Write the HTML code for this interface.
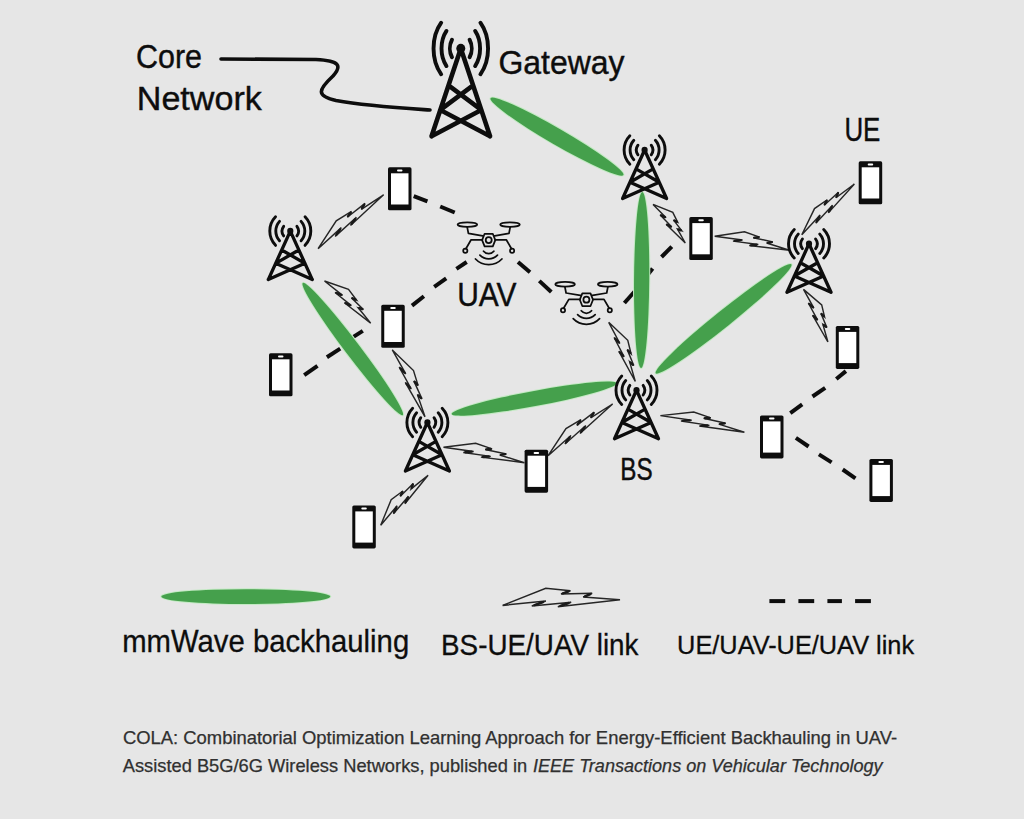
<!DOCTYPE html>
<html><head><meta charset="utf-8"><style>
html,body{margin:0;padding:0;background:#e6e6e6;}
body{width:1024px;height:819px;overflow:hidden;}
svg{display:block;font-family:"Liberation Sans",sans-serif;}
</style></head><body>
<svg width="1024" height="819" viewBox="0 0 1024 819">
<defs><g id="ph"><rect x="0" y="0" width="23.5" height="43" rx="1.6" fill="#0d0d0d"/><rect x="3" y="6" width="17.5" height="31.2" fill="#fff"/><rect x="9" y="2.2" width="5.5" height="2" rx="1" fill="#fff"/></g>
<g id="dr" fill="none" stroke="#0d0d0d" stroke-width="1.75" stroke-linecap="round" stroke-linejoin="round"><ellipse cx="-21.3" cy="-15.5" rx="9.8" ry="2.3"/><ellipse cx="21.3" cy="-15.5" rx="9.8" ry="2.3"/><path d="M-21.5,-12.9 L-20.3,-6.7 L-6,-4.3 M21.5,-12.9 L20.3,-6.7 L6,-4.3"/><path d="M6.6,0 L4.1,6.3 L-4.1,6.3 L-6.6,0 L-4.1,-6.3 L4.1,-6.3Z"/><circle cx="0" cy="0" r="3"/><path d="M-6.4,-0.3 L-17.6,-0.3 L-22.8,8.6 M6.4,-0.3 L17.6,-0.3 L22.8,8.6"/><circle cx="-23.4" cy="10.6" r="2.1"/><circle cx="23.4" cy="10.6" r="2.1"/><path d="M-5.15,11.1 A6.6,6.6 0 0 0 5.15,11.1 M-8.8,15 A12.3,12.3 0 0 0 8.8,15 M-13.2,18.9 A18.1,18.1 0 0 0 13.2,18.9"/></g></defs>
<rect width="1024" height="819" fill="#e6e6e6"/>
<path d="M221,59 L316,59.5 C340,60.5 342,66 333,76 C318,90 316,96 336,100.5 C366,106 400,108 430,110" fill="none" stroke="#0d0d0d" stroke-width="3.6" stroke-linecap="round"/>
<g stroke="#0d0d0d" stroke-width="4" stroke-linecap="butt"><line x1="413.7" y1="196.2" x2="427.4" y2="201.4"/><line x1="440.2" y1="206.5" x2="454.7" y2="212.5"/><line x1="466.7" y1="262" x2="456.4" y2="268.9"/><line x1="446.2" y1="278.3" x2="434.2" y2="286.8"/><line x1="423.9" y1="296.2" x2="412" y2="305.6"/><line x1="518" y1="262" x2="530" y2="272.3"/><line x1="539.3" y1="280.9" x2="551.3" y2="292"/><line x1="624.4" y1="303" x2="634.6" y2="291.5"/><line x1="643.4" y1="280.2" x2="652.6" y2="268.4"/><line x1="661.5" y1="257" x2="671.8" y2="246.7"/><line x1="304.2" y1="375.2" x2="317.5" y2="365.8"/><line x1="326.9" y1="357.2" x2="340.2" y2="348.6"/><line x1="353.4" y1="336.9" x2="362.8" y2="330.9"/><line x1="790.3" y1="413.2" x2="802.2" y2="404.4"/><line x1="812.5" y1="396.5" x2="825.2" y2="387.8"/><line x1="836.3" y1="379" x2="845.9" y2="371.1"/><line x1="795.9" y1="437.8" x2="808.6" y2="446.5"/><line x1="818.9" y1="454.4" x2="831.6" y2="462.4"/><line x1="842.7" y1="469.5" x2="855.4" y2="478.3"/><line x1="769.4" y1="601.1" x2="785.2" y2="601.1"/><line x1="798.4" y1="601.1" x2="814.2" y2="601.1"/><line x1="827.4" y1="601.1" x2="841.9" y2="601.1"/><line x1="855.1" y1="601.1" x2="870.9" y2="601.1"/></g>
<ellipse cx="556.98" cy="136.65" rx="76.75" ry="8.1" transform="rotate(30.06 556.98 136.65)" fill="#45a04c" stroke="#c3eac3" stroke-width="2" paint-order="stroke"/>
<ellipse cx="641.65" cy="280" rx="88.1" ry="7.6" transform="rotate(90.42 641.65 280)" fill="#45a04c" stroke="#c3eac3" stroke-width="2" paint-order="stroke"/>
<ellipse cx="352.75" cy="349.1" rx="82.87" ry="7.35" transform="rotate(52.88 352.75 349.1)" fill="#45a04c" stroke="#c3eac3" stroke-width="2" paint-order="stroke"/>
<ellipse cx="534.1" cy="398.6" rx="83.82" ry="7.6" transform="rotate(-10.54 534.1 398.6)" fill="#45a04c" stroke="#c3eac3" stroke-width="2" paint-order="stroke"/>
<ellipse cx="723.55" cy="318.85" rx="87.02" ry="8.1" transform="rotate(-38.78 723.55 318.85)" fill="#45a04c" stroke="#c3eac3" stroke-width="2" paint-order="stroke"/>
<ellipse cx="245.8" cy="596.6" rx="84.5" ry="7.4" fill="#45a04c" stroke="#c3eac3" stroke-width="2" paint-order="stroke"/>
<path d="M318.1,248.7 L336.24,220.82 L351.5,211.46 L347.29,217.29 L364.99,203.42 L361.31,209.36 L383.6,194.8 L350.5,225.47 L356.41,217.29 L335.2,236.38 L341.3,227.63Z" fill="none" stroke="#262626" stroke-width="1.45" stroke-linejoin="miter" stroke-miterlimit="4"/><path d="M350.66,212.63 L348.14,216.13 M364.25,204.61 L362.04,208.17 M351.68,223.83 L355.23,218.93 M336.42,234.63 L340.08,229.38" stroke="#1a1a1a" stroke-width="2.32" stroke-linecap="round"/>
<path d="M324.5,281 L348.51,289.35 L356.51,299.98 L351.49,297.88 L363.37,309.43 L358.25,307.81 L370.7,323.1 L344.38,302.7 L351.42,305.65 L335.05,292.44 L342.58,295.4Z" fill="none" stroke="#262626" stroke-width="1.45" stroke-linejoin="miter" stroke-miterlimit="4"/><path d="M355.5,299.56 L352.49,298.3 M362.35,309.1 L359.28,308.13 M345.79,303.29 L350.01,305.06 M336.55,293.03 L341.07,294.81" stroke="#1a1a1a" stroke-width="2.32" stroke-linecap="round"/>
<path d="M392.3,349.9 L413.51,370.53 L418.13,385.6 L413.8,380.91 L421.99,398.88 L417.42,394.64 L425,416.8 L405.26,382.44 L411.32,389.01 L399.2,367.08 L405.74,373.91Z" fill="none" stroke="#262626" stroke-width="1.45" stroke-linejoin="miter" stroke-miterlimit="4"/><path d="M417.26,384.66 L414.67,381.85 M421.08,398.03 L418.34,395.49 M406.47,383.75 L410.1,387.7 M400.51,368.45 L404.43,372.55" stroke="#1a1a1a" stroke-width="2.32" stroke-linecap="round"/>
<path d="M443.5,447.3 L475.63,443.24 L492.07,448.88 L485.1,449.42 L506.44,454.02 L499.71,455.03 L524.4,462.7 L480.95,457.13 L490.73,456.38 L463.31,452.45 L473.64,451.48Z" fill="none" stroke="#262626" stroke-width="1.45" stroke-linejoin="miter" stroke-miterlimit="4"/><path d="M490.68,448.99 L486.49,449.31 M505.09,454.22 L501.05,454.82 M482.9,456.98 L488.77,456.53 M465.38,452.25 L471.57,451.67" stroke="#1a1a1a" stroke-width="2.32" stroke-linecap="round"/>
<path d="M548.1,455.7 L565.97,428.56 L580.99,419.68 L576.85,425.35 L594.27,412.06 L590.65,417.85 L612.6,404 L580.01,433.52 L585.82,425.58 L564.94,443.93 L570.94,435.43Z" fill="none" stroke="#262626" stroke-width="1.45" stroke-linejoin="miter" stroke-miterlimit="4"/><path d="M580.17,420.82 L577.68,424.22 M593.55,413.22 L591.37,416.69 M581.17,431.93 L584.66,427.17 M566.14,442.23 L569.74,437.13" stroke="#1a1a1a" stroke-width="2.32" stroke-linecap="round"/>
<path d="M380.7,525.3 L391.17,499.72 L402.87,490.97 L400.31,496.33 L413.26,483.44 L411.19,488.89 L428.1,475.3 L404.85,503.67 L408.45,496.16 L393.43,513.83 L397.08,505.8Z" fill="none" stroke="#262626" stroke-width="1.45" stroke-linejoin="miter" stroke-miterlimit="4"/><path d="M402.36,492.04 L400.82,495.26 M412.84,484.53 L411.6,487.8 M405.57,502.17 L407.73,497.66 M394.16,512.22 L396.35,507.4" stroke="#1a1a1a" stroke-width="2.32" stroke-linecap="round"/>
<path d="M608.7,322.3 L627.77,340.34 L631.08,353.73 L627.23,349.62 L633.79,365.53 L629.66,361.83 L635.3,381.5 L618.76,351.15 L624.15,356.91 L614.07,337.53 L619.91,343.52Z" fill="none" stroke="#262626" stroke-width="1.45" stroke-linejoin="miter" stroke-miterlimit="4"/><path d="M630.31,352.91 L628,350.44 M632.97,364.79 L630.49,362.57 M619.84,352.3 L623.07,355.76 M615.23,338.73 L618.74,342.32" stroke="#1a1a1a" stroke-width="2.32" stroke-linecap="round"/>
<path d="M653.05,204.4 L672.79,212.42 L677.63,222.08 L673.58,220.08 L681.72,230.65 L677.48,229.08 L685.3,243 L666.14,224.2 L671.81,227 L660.01,214.84 L666.12,217.66Z" fill="none" stroke="#262626" stroke-width="1.45" stroke-linejoin="miter" stroke-miterlimit="4"/><path d="M676.82,221.68 L674.39,220.48 M680.87,230.34 L678.33,229.4 M667.28,224.76 L670.68,226.44 M661.23,215.4 L664.9,217.1" stroke="#1a1a1a" stroke-width="2.32" stroke-linecap="round"/>
<path d="M714.7,236.3 L744.48,231.71 L759.64,237.06 L753.17,237.71 L772.87,241.94 L766.63,243.06 L789.4,250.3 L749.25,245.47 L758.31,244.56 L732.98,241.1 L742.55,239.96Z" fill="none" stroke="#262626" stroke-width="1.45" stroke-linejoin="miter" stroke-miterlimit="4"/><path d="M758.34,237.19 L754.47,237.58 M771.62,242.17 L767.88,242.84 M751.06,245.29 L756.5,244.75 M734.89,240.87 L740.63,240.19" stroke="#1a1a1a" stroke-width="2.32" stroke-linecap="round"/>
<path d="M801.8,234.8 L814.53,208.61 L827.23,199.77 L824.19,205.25 L838.5,192.17 L835.96,197.75 L854.4,184 L828.31,212.88 L832.58,205.2 L815.78,223.17 L820.15,214.95Z" fill="none" stroke="#262626" stroke-width="1.45" stroke-linejoin="miter" stroke-miterlimit="4"/><path d="M826.63,200.86 L824.8,204.15 M837.99,193.28 L836.47,196.63 M829.16,211.34 L831.73,206.73 M816.66,221.53 L819.27,216.6" stroke="#1a1a1a" stroke-width="2.32" stroke-linecap="round"/>
<path d="M803.5,289.4 L821.7,304.86 L824.56,316.9 L820.9,313.35 L826.88,327.52 L822.94,324.36 L827.9,342 L812.54,315.18 L817.67,320.16 L808.33,303.01 L813.89,308.17Z" fill="none" stroke="#262626" stroke-width="1.45" stroke-linejoin="miter" stroke-miterlimit="4"/><path d="M823.82,316.19 L821.63,314.06 M826.09,326.88 L823.72,324.99 M813.57,316.18 L816.64,319.16 M809.44,304.04 L812.78,307.14" stroke="#1a1a1a" stroke-width="2.32" stroke-linecap="round"/>
<path d="M660.4,415.6 L693.75,412 L710.83,417.89 L703.59,418.32 L725.75,423.24 L718.76,424.16 L744.4,432.2 L699.28,425.99 L709.44,425.38 L680.97,421.04 L691.69,420.22Z" fill="none" stroke="#262626" stroke-width="1.45" stroke-linejoin="miter" stroke-miterlimit="4"/><path d="M709.38,417.98 L705.04,418.24 M724.35,423.43 L720.16,423.97 M701.31,425.86 L707.41,425.5 M683.11,420.88 L689.55,420.39" stroke="#1a1a1a" stroke-width="2.32" stroke-linecap="round"/>
<path d="M502.6,605.4 L545.78,588.29 L570.5,590.8 L561,594 L592.15,593.29 L583.16,597.1 L620,599.7 L557.85,606.7 L571.17,602.21 L531.81,606.01 L545.81,601Z" fill="none" stroke="#262626" stroke-width="1.5" stroke-linejoin="miter" stroke-miterlimit="4"/><path d="M568.6,591.44 L562.9,593.36 M590.35,594.05 L584.96,596.34 M560.52,605.8 L568.51,603.1 M534.61,605.01 L543.01,602.01" stroke="#1a1a1a" stroke-width="2.4000000000000004" stroke-linecap="round"/>
<g><path d="M451.98,39.78 A10.91,14.84 0 0 0 451.98,57.22 M469.62,39.78 A10.91,14.84 0 0 1 469.62,57.22 M446.47,30.94 A19.29,26.25 0 0 0 446.47,66.06 M475.13,30.94 A19.29,26.25 0 0 1 475.13,66.06 M441.19,22.72 A27.27,37.11 0 0 0 441.19,74.28 M480.41,22.72 A27.27,37.11 0 0 1 480.41,74.28" fill="none" stroke="#0d0d0d" stroke-width="3.9" stroke-linecap="round"/><path d="M431.54,136.28 L460.8,48.5 L490.06,136.28 M448.51,85.37 L481.28,109.95 M473.09,85.37 L440.32,109.95 M440.32,109.95 L490.06,136.28 M481.28,109.95 L431.54,136.28" fill="none" stroke="#0d0d0d" stroke-width="4.6" stroke-linecap="round" stroke-linejoin="round"/><ellipse cx="460.8" cy="48.5" rx="4.5" ry="4.73" fill="#0d0d0d"/></g>
<g><path d="M637.97,145.18 A8.2,8.2 0 0 0 637.97,154.82 M651.23,145.18 A8.2,8.2 0 0 1 651.23,154.82 M633.82,140.3 A14.5,14.5 0 0 0 633.82,159.7 M655.38,140.3 A14.5,14.5 0 0 1 655.38,159.7 M629.85,135.76 A20.5,20.5 0 0 0 629.85,164.24 M659.35,135.76 A20.5,20.5 0 0 1 659.35,164.24" fill="none" stroke="#0d0d0d" stroke-width="2.9" stroke-linecap="round"/><path d="M622.6,198.5 L644.6,150 L666.6,198.5 M636.02,168.91 L659.23,182.25 M653.18,168.91 L629.97,182.25 M629.97,182.25 L666.6,198.5 M659.23,182.25 L622.6,198.5" fill="none" stroke="#0d0d0d" stroke-width="3.3" stroke-linecap="round" stroke-linejoin="round"/><ellipse cx="644.6" cy="150" rx="3.1" ry="3.26" fill="#0d0d0d"/></g>
<g><path d="M283.67,226.28 A8.2,8.2 0 0 0 283.67,235.92 M296.93,226.28 A8.2,8.2 0 0 1 296.93,235.92 M279.52,221.4 A14.5,14.5 0 0 0 279.52,240.8 M301.08,221.4 A14.5,14.5 0 0 1 301.08,240.8 M275.55,216.86 A20.5,20.5 0 0 0 275.55,245.34 M305.05,216.86 A20.5,20.5 0 0 1 305.05,245.34" fill="none" stroke="#0d0d0d" stroke-width="2.9" stroke-linecap="round"/><path d="M268.3,279.6 L290.3,231.1 L312.3,279.6 M281.72,250.01 L304.93,263.35 M298.88,250.01 L275.67,263.35 M275.67,263.35 L312.3,279.6 M304.93,263.35 L268.3,279.6" fill="none" stroke="#0d0d0d" stroke-width="3.3" stroke-linecap="round" stroke-linejoin="round"/><ellipse cx="290.3" cy="231.1" rx="3.1" ry="3.26" fill="#0d0d0d"/></g>
<g><path d="M802.37,238.98 A8.2,8.2 0 0 0 802.37,248.62 M815.63,238.98 A8.2,8.2 0 0 1 815.63,248.62 M798.22,234.1 A14.5,14.5 0 0 0 798.22,253.5 M819.78,234.1 A14.5,14.5 0 0 1 819.78,253.5 M794.25,229.56 A20.5,20.5 0 0 0 794.25,258.04 M823.75,229.56 A20.5,20.5 0 0 1 823.75,258.04" fill="none" stroke="#0d0d0d" stroke-width="2.9" stroke-linecap="round"/><path d="M787,292.3 L809,243.8 L831,292.3 M800.42,262.72 L823.63,276.05 M817.58,262.72 L794.37,276.05 M794.37,276.05 L831,292.3 M823.63,276.05 L787,292.3" fill="none" stroke="#0d0d0d" stroke-width="3.3" stroke-linecap="round" stroke-linejoin="round"/><ellipse cx="809" cy="243.8" rx="3.1" ry="3.26" fill="#0d0d0d"/></g>
<g><path d="M629.87,385.38 A8.2,8.2 0 0 0 629.87,395.02 M643.13,385.38 A8.2,8.2 0 0 1 643.13,395.02 M625.72,380.5 A14.5,14.5 0 0 0 625.72,399.9 M647.28,380.5 A14.5,14.5 0 0 1 647.28,399.9 M621.75,375.96 A20.5,20.5 0 0 0 621.75,404.44 M651.25,375.96 A20.5,20.5 0 0 1 651.25,404.44" fill="none" stroke="#0d0d0d" stroke-width="2.9" stroke-linecap="round"/><path d="M614.5,438.7 L636.5,390.2 L658.5,438.7 M627.92,409.12 L651.13,422.45 M645.08,409.12 L621.87,422.45 M621.87,422.45 L658.5,438.7 M651.13,422.45 L614.5,438.7" fill="none" stroke="#0d0d0d" stroke-width="3.3" stroke-linecap="round" stroke-linejoin="round"/><ellipse cx="636.5" cy="390.2" rx="3.1" ry="3.26" fill="#0d0d0d"/></g>
<g><path d="M420.77,417.68 A8.2,8.2 0 0 0 420.77,427.32 M434.03,417.68 A8.2,8.2 0 0 1 434.03,427.32 M416.62,412.8 A14.5,14.5 0 0 0 416.62,432.2 M438.18,412.8 A14.5,14.5 0 0 1 438.18,432.2 M412.65,408.26 A20.5,20.5 0 0 0 412.65,436.74 M442.15,408.26 A20.5,20.5 0 0 1 442.15,436.74" fill="none" stroke="#0d0d0d" stroke-width="2.9" stroke-linecap="round"/><path d="M405.4,471 L427.4,422.5 L449.4,471 M418.82,441.42 L442.03,454.75 M435.98,441.42 L412.77,454.75 M412.77,454.75 L449.4,471 M442.03,454.75 L405.4,471" fill="none" stroke="#0d0d0d" stroke-width="3.3" stroke-linecap="round" stroke-linejoin="round"/><ellipse cx="427.4" cy="422.5" rx="3.1" ry="3.26" fill="#0d0d0d"/></g>
<use href="#ph" x="388" y="167.3"/>
<use href="#ph" x="858.7" y="161.3"/>
<use href="#ph" x="689.3" y="217.1"/>
<use href="#ph" x="381.25" y="304.8"/>
<use href="#ph" x="835.8" y="325.9"/>
<use href="#ph" x="269" y="353.3"/>
<use href="#ph" x="760" y="415.4"/>
<use href="#ph" x="524.6" y="449.7"/>
<use href="#ph" x="869.4" y="458.9"/>
<use href="#ph" x="352.3" y="505.4"/>
<use href="#dr" transform="translate(488.7,240.1)"/>
<use href="#dr" transform="translate(586.4,299.7)"/>
<text x="136" y="67.5" font-size="33.5" textLength="66" lengthAdjust="spacingAndGlyphs" fill="#0d0d0d" stroke="#0d0d0d" stroke-width="0.4">Core</text>
<text x="136.8" y="109.7" font-size="33.5" textLength="125" lengthAdjust="spacingAndGlyphs" fill="#0d0d0d" stroke="#0d0d0d" stroke-width="0.4">Network</text>
<text x="498.4" y="73.7" font-size="33" textLength="126.2" lengthAdjust="spacingAndGlyphs" fill="#0d0d0d" stroke="#0d0d0d" stroke-width="0.4">Gateway</text>
<text x="844.4" y="141.1" font-size="32.5" textLength="36" lengthAdjust="spacingAndGlyphs" fill="#0d0d0d" stroke="#0d0d0d" stroke-width="0.4">UE</text>
<text x="457.2" y="305.6" font-size="32.5" textLength="59.3" lengthAdjust="spacingAndGlyphs" fill="#0d0d0d" stroke="#0d0d0d" stroke-width="0.4">UAV</text>
<text x="620.3" y="480.3" font-size="31.5" textLength="32.4" lengthAdjust="spacingAndGlyphs" fill="#0d0d0d" stroke="#0d0d0d" stroke-width="0.45">BS</text>
<text x="122.2" y="651.7" font-size="30.5" textLength="287" lengthAdjust="spacingAndGlyphs" fill="#0d0d0d" stroke="#0d0d0d" stroke-width="0.3">mmWave backhauling</text>
<text x="441" y="654.7" font-size="30" textLength="197.5" lengthAdjust="spacingAndGlyphs" fill="#0d0d0d" stroke="#0d0d0d" stroke-width="0.3">BS-UE/UAV link</text>
<text x="677.1" y="654.2" font-size="26.5" textLength="237" lengthAdjust="spacingAndGlyphs" fill="#0d0d0d" stroke="#0d0d0d" stroke-width="0.3">UE/UAV-UE/UAV link</text>
<text x="122.9" y="744" font-size="17.7" textLength="774.3" lengthAdjust="spacingAndGlyphs" fill="#303030" stroke="#303030" stroke-width="0.25">COLA: Combinatorial Optimization Learning Approach for Energy-Efficient Backhauling in UAV-</text>
<text x="122.7" y="772" font-size="17.7" fill="#303030" stroke="#303030" stroke-width="0.25"><tspan textLength="404.5" lengthAdjust="spacingAndGlyphs">Assisted B5G/6G Wireless Networks, published in</tspan><tspan x="533" font-style="italic" textLength="349.6" lengthAdjust="spacingAndGlyphs">IEEE Transactions on Vehicular Technology</tspan></text>
</svg></body></html>
